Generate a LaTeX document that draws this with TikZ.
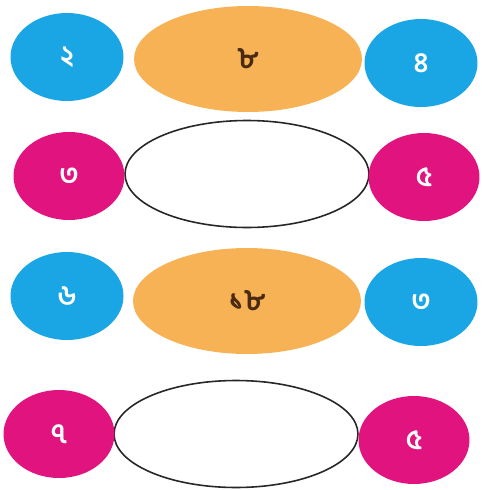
\documentclass[tikz,border=0pt]{standalone}
\usepackage{fontspec}
\usepackage{xcolor}
\usepackage{tikz}
\usetikzlibrary{shapes.geometric}
\newfontfamily\bnfont[Script=Bengali]{Hind Siliguri}
\definecolor{sblue}{HTML}{1AA6E4}
\definecolor{spink}{HTML}{E0137F}
\definecolor{sorange}{HTML}{F7B256}
\definecolor{sbrown}{HTML}{4A2A10}
\tikzset{
  numball/.style={ellipse, inner sep=0pt, font=\bnfont\bfseries\fontsize{16}{18}\selectfont, text=white},
  blueball/.style={numball, fill=sblue, minimum width=2.26cm, minimum height=1.76cm},
  pinkball/.style={numball, fill=spink, minimum width=2.22cm, minimum height=1.76cm},
  sumball/.style={ellipse, inner sep=0pt, fill=sorange, minimum width=4.56cm, minimum height=2.12cm,
    font=\bnfont\bfseries\fontsize{17}{19}\selectfont, text=sbrown},
  emptyball/.style={ellipse, inner sep=0pt, draw=black!85, line width=0.9pt, fill=white,
    minimum width=4.88cm, minimum height=2.14cm}
}

\begin{document}
\begin{tikzpicture}[x=0.02cm, y=-0.02cm]
\useasboundingbox (0,0) rectangle (481,490);
% first row
\node[blueball] (l1) at (67,57) {২};
\node[sumball] (m1) at (248,59) {৮};
\node[blueball] (r1) at (421,63) {৪};
% second row
\node[emptyball] (m2) at (247,174) {};
\node[pinkball] (l2) at (69,176) {৩};
\node[pinkball] (r2) at (424,177) {৫};
% third row
\node[blueball] (l3) at (67,296) {৬};
\node[sumball] (m3) at (247,301) {১৮};
\node[blueball] (r3) at (421,302) {৩};
% fourth row
\node[emptyball] (m4) at (236,434) {};
\node[pinkball] (l4) at (59,434) {৭};
\node[pinkball] (r4) at (414,440) {৫};
\end{tikzpicture}
\end{document}
